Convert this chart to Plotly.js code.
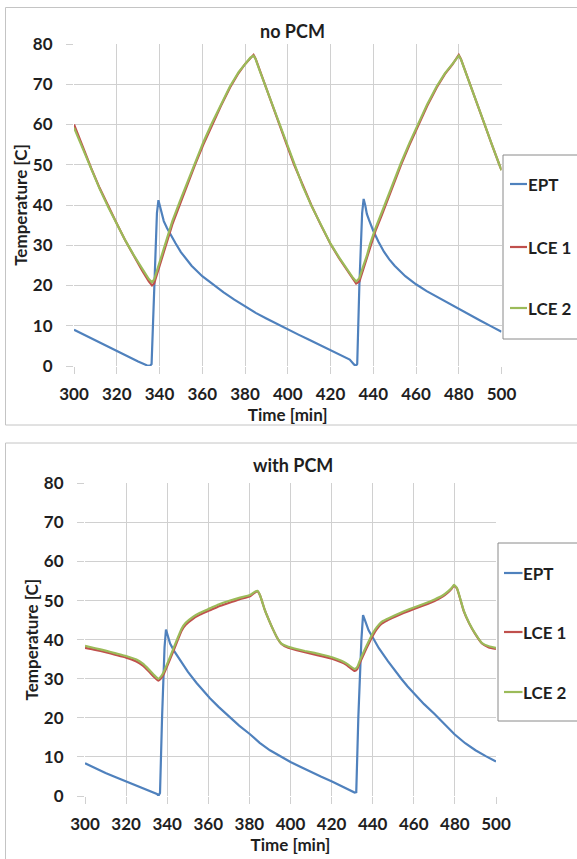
<!DOCTYPE html>
<html>
<head>
<meta charset="utf-8">
<script src="https://cdn.plot.ly/plotly-3.0.1.min.js"></script>
<style>html,body{margin:0;padding:0;background:#fff;}#chart{width:577px;height:859px;}</style>
</head>
<body>
<div id="chart"></div>
<script>
// ---------- data: top panel "no PCM" ----------
const topEptTime = [300,310,320,330,334,335.5,336.3,337.5,338.8,339.5,340.2,341,342,343.5,345,347.5,350,355,360,365,370,375,380,385,390,395,400,405,410,415,420,425,429,431,431.8,432.5,433.5,434.8,435.5,436.3,437,438,440,442.5,445,447.5,450,455,460,465,470,475,480,485,490,495,500];
const topEpt = [9.0,6.3,3.6,1.1,0.2,0,0.5,20,38,41.2,39.8,37.5,36,34.3,32.8,30.5,28.3,24.9,22.3,20.2,18.3,16.5,14.8,13.2,11.8,10.4,9.1,7.8,6.5,5.2,4.0,2.8,1.6,0.4,0,0.5,20,38,41.5,39.8,37.8,36.3,33.6,30.8,28.4,26.5,24.9,22.3,20.3,18.6,17.1,15.6,14.3,12.8,11.3,9.9,8.5];
const topLceTime = [300,304,308,312,316,320,324,328,332,335,336.5,337.5,339,341,343,346,349.6,353,356.6,360.5,364.5,368.7,373,377,380,382.5,384,385,387,390,393,396,399.5,403,407,411,415.5,420,424,428,430.5,432,433.5,435,437,438.5,441,444,446,449.5,453,457,461,465.2,469.7,473.5,477,479,480,481,483,486,489,492,495.5,499,500];
const topLce1 = [60,54.5,49.2,44.2,39.6,35.4,31.2,27.3,23.6,21,20,20.5,23,26.5,30,35.2,40.2,45,50,55,59.8,64.6,69.2,72.8,75.0,76.6,77.3,76.3,73.3,69,64.7,60.3,55,50,44.8,40,35,30.3,26.8,23.5,21.5,20.5,21,23.5,26.5,29.5,33.5,37.5,40.3,45,50,55,59.8,64.6,69.2,72.5,74.9,76.5,77.3,76.3,73.3,69,64.7,60.3,55,50,48.7];
const topLce2 = [59.2,54.0,48.9,44.0,39.5,35.3,31.2,27.5,24.0,21.6,20.8,21.5,24.0,27.5,31.0,36.0,41.0,45.7,50.7,55.6,60.3,65.0,69.5,73.0,75.1,76.6,77.1,76.2,73.2,68.9,64.6,60.2,55,49.9,44.7,39.9,35,30.4,27,23.8,21.9,21.0,21.8,24.3,27.4,30.3,34.2,38.2,41,45.6,50.5,55.5,60.2,65.0,69.5,72.7,75.0,76.5,77.1,76.2,73.2,68.9,64.6,60.2,55,49.9,48.6];

// ---------- data: bottom panel "with PCM" ----------
const botEptTime = [300,305,310,315,320,325,330,333,335,335.8,336.5,337.5,338.7,339.4,340.2,341.4,343.5,346.2,350,354.3,360.8,365,370.6,375,380.3,385,390,395,400,405,410,415,420.2,425,429.6,431.2,432,433,434.5,435.3,436.2,436.9,438,440.1,443,447.4,450,453.9,457,460.4,465,470.1,475,479.8,485,490,495,500];
const botEpt = [8.4,7.1,5.9,4.8,3.7,2.6,1.6,1.0,0.5,0.1,0.8,20,38,42.6,41,39,37,34.8,31.8,28.9,25.0,22.8,20.0,18.0,15.8,13.6,11.7,10.1,8.7,7.4,6.1,4.9,3.7,2.5,1.4,0.9,1.0,20,40,46.3,45,44.0,42.4,40.5,37.8,34.5,32.6,30.0,28.0,26.0,23.5,21.0,18.3,15.8,13.5,11.7,10.2,8.8];
const botLceTime = [300,305,310,315,320,325,328,331,333.5,335.7,337,338.5,341.4,344.6,347,349,352.7,356,360.8,365,370.6,375,380.3,382.5,383.9,385.2,387.5,389.5,391.6,393.5,395.6,398.9,403,407,411,415,420.2,424.8,427,428.8,431.2,432.5,433.7,436.9,440.1,442,444.2,447,450.6,455,460.4,465,470.1,474,476.5,478.5,479.6,481,484.3,487,489.7,493.2,496.5,500];
const botLce1 = [37.9,37.4,36.8,36.1,35.4,34.4,33.4,31.9,30.5,29.5,30.1,31.4,35.0,39.2,42.3,43.8,45.4,46.4,47.5,48.5,49.5,50.3,51.1,52.0,52.4,51.3,47.6,45,42.5,40.5,38.9,37.9,37.3,36.8,36.3,35.8,35.1,34.2,33.6,32.9,32.0,32.5,34.0,37.7,41.1,42.7,44.0,44.9,45.8,46.8,47.9,48.8,49.9,51.0,52.0,53.1,53.8,53.1,47.3,44.1,41.6,39.0,38.0,37.6];
const botLce2 = [38.4,37.8,37.2,36.5,35.8,34.9,33.9,32.4,31.0,30.0,30.6,32.0,35.6,39.8,42.8,44.3,45.9,46.9,48.0,49.0,50.0,50.7,51.4,52.2,52.5,51.3,47.6,45,42.5,40.5,39,38.2,37.6,37.1,36.7,36.2,35.5,34.6,34,33.3,32.5,33,34.6,38.3,41.7,43.2,44.5,45.3,46.2,47.2,48.3,49.2,50.3,51.3,52.3,53.3,54.0,53.2,47.4,44.2,41.7,39.1,38.3,37.9];

// ---------- labels ----------
const seriesNames = ["EPT", "LCE 1", "LCE 2"];
const panelTitles = ["no PCM", "with PCM"];
const xTitle = "Time [min]";
const yTitle = "Temperature [C]";
const xTicks = [300,320,340,360,380,400,420,440,460,480,500];
const yTicks = [0,10,20,30,40,50,60,70,80];

// ---------- styling ----------
const colors = ["#4f81bd", "#c0504d", "#9bbb59"];
const W = 577, H = 859;
const px = v => v / W;
const py = v => 1 - v / H;
const FONT = "Lato, 'Open Sans', 'DejaVu Sans', sans-serif";
const TXT = "#1f1f1f";
const gridColor = "#d0d0d0";

function line(x, y, i, xa, ya, smooth) {
  return {
    type: "scatter", mode: "lines", x: x, y: y, name: seriesNames[i],
    xaxis: xa, yaxis: ya, showlegend: false,
    line: {color: colors[i], width: 2.2, shape: smooth ? "spline" : "linear", smoothing: 0.4},
    hoverinfo: "skip"
  };
}

const data = [
  line(topEptTime, topEpt, 0, "x", "y", false),
  line(topLceTime, topLce1, 1, "x", "y", false),
  line(topLceTime, topLce2, 2, "x", "y", false),
  line(botEptTime, botEpt, 0, "x2", "y2", false),
  line(botLceTime, botLce1, 1, "x2", "y2", true),
  line(botLceTime, botLce2, 2, "x2", "y2", true)
];

function xaxis(domain, anchor) {
  return {
    domain: domain, anchor: anchor, range: [300, 500], tickvals: xTicks, ticktext: xTicks.map(String),
    showgrid: true, gridcolor: gridColor, gridwidth: 1, zeroline: false, showline: false,
    ticks: "outside", ticklen: 7, tickcolor: gridColor, ticklabelstandoff: 6,
    tickfont: {family: FONT, size: 17, color: TXT, weight: 700},
    title: {text: xTitle, font: {family: FONT, size: 17, color: TXT, weight: 700}, standoff: 0},
    automargin: false, fixedrange: true
  };
}
function yaxis(domain, anchor, standoffLbl, standoffTitle) {
  return {
    domain: domain, anchor: anchor, range: [0, 80], tickvals: yTicks, ticktext: yTicks.map(String),
    showgrid: true, gridcolor: gridColor, gridwidth: 1, zeroline: false, showline: false,
    ticks: "outside", ticklen: 7, tickcolor: gridColor, ticklabelstandoff: standoffLbl,
    tickfont: {family: FONT, size: 17, color: TXT, weight: 700},
    title: {text: yTitle, font: {family: FONT, size: 17, color: TXT, weight: 700}, standoff: standoffTitle},
    automargin: false, fixedrange: true
  };
}

// panel geometry (px)
const topPlot = {x0: 74, x1: 501.5, y0: 44, y1: 366};
const botPlot = {x0: 85, x1: 496, y0: 483.3, y1: 796};

const shapes = [];
const annotations = [];
// panel frames
shapes.push({type: "rect", xref: "paper", yref: "paper", x0: px(5.5), x1: px(590), y0: py(425), y1: py(7.5),
  line: {color: "#c4c4c4", width: 1}, fillcolor: "rgba(0,0,0,0)", layer: "below"});
shapes.push({type: "rect", xref: "paper", yref: "paper", x0: px(5.5), x1: px(590), y0: py(880), y1: py(443),
  line: {color: "#c4c4c4", width: 1}, fillcolor: "rgba(0,0,0,0)", layer: "below"});

// panel titles
annotations.push({text: panelTitles[0], xref: "paper", yref: "paper", x: px(292.5), y: py(31), showarrow: false,
  xanchor: "center", yanchor: "middle", font: {family: FONT, size: 18, color: TXT, weight: 700}});
annotations.push({text: panelTitles[1], xref: "paper", yref: "paper", x: px(293), y: py(465), showarrow: false,
  xanchor: "center", yanchor: "middle", font: {family: FONT, size: 18, color: TXT, weight: 700}});

// legends (drawn boxes + keys)
function legend(box, ys, lx0, lx1, tx) {
  shapes.push({type: "rect", xref: "paper", yref: "paper", x0: px(box.x0), x1: px(box.x1), y0: py(box.y1), y1: py(box.y0),
    line: {color: "#8a8a8a", width: 1}, fillcolor: "#ffffff", layer: "above"});
  seriesNames.forEach((n, i) => {
    shapes.push({type: "line", xref: "paper", yref: "paper", x0: px(lx0), x1: px(lx1), y0: py(ys[i]), y1: py(ys[i]),
      line: {color: colors[i], width: 2.2}, layer: "above"});
    annotations.push({text: n, xref: "paper", yref: "paper", x: px(tx), y: py(ys[i]), showarrow: false,
      xanchor: "left", yanchor: "middle", font: {family: FONT, size: 17, color: TXT, weight: 700}});
  });
}
legend({x0: 503, x1: 590, y0: 155, y1: 339}, [184, 247, 308], 510, 527, 526);
legend({x0: 498, x1: 590, y0: 543, y1: 721}, [573, 632, 692], 504, 522.5, 521);

const layout = {
  width: W, height: H,
  margin: {l: 0, r: 0, t: 0, b: 0, pad: 0},
  paper_bgcolor: "#ffffff", plot_bgcolor: "#ffffff",
  showlegend: false,
  xaxis: xaxis([px(topPlot.x0), px(topPlot.x1)], "y"),
  yaxis: yaxis([py(topPlot.y1), py(topPlot.y0)], "x", 10, 0),
  xaxis2: xaxis([px(botPlot.x0), px(botPlot.x1)], "y2"),
  yaxis2: yaxis([py(botPlot.y1), py(botPlot.y0)], "x2", 10, 0),
  shapes: shapes,
  annotations: annotations,
  font: {family: FONT}
};

Plotly.newPlot("chart", data, layout, {staticPlot: true, displayModeBar: false});
</script>
</body>
</html>
